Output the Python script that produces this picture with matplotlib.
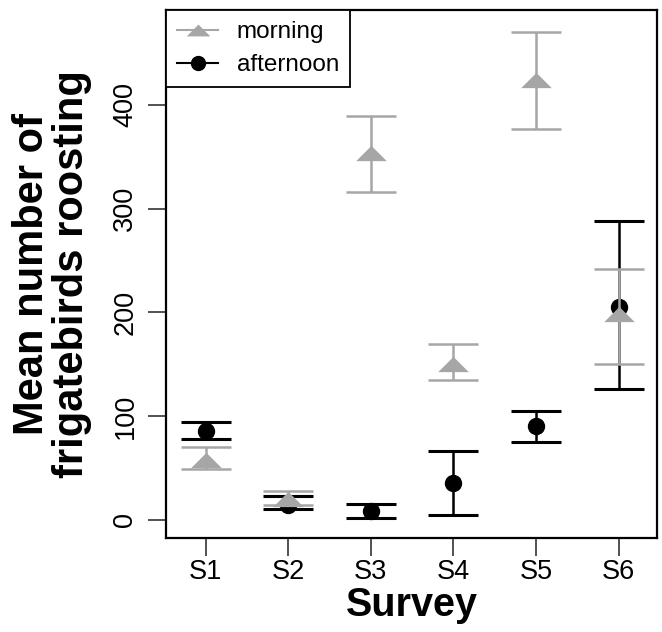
import matplotlib.pyplot as plt
from matplotlib.lines import Line2D

plt.rcParams['font.family'] = ['Liberation Sans', 'DejaVu Sans']

# Data
surveys = ['S1', 'S2', 'S3', 'S4', 'S5', 'S6']

morning_mean = [58, 20, 354, 150, 424, 198]
morning_low = [49, 14, 316, 135, 377, 150]
morning_high = [70, 28, 389, 169, 470, 242]

afternoon_mean = [86, 14, 8, 35, 90, 205]
afternoon_low = [78, 10, 2, 5, 75, 126]
afternoon_high = [94, 23, 15, 66, 105, 288]

gray = '#A6A6A6'
x = list(range(1, len(surveys) + 1))

# flattened triangle like the R output
tri = [(-1, -0.5), (1, -0.5), (0, 0.5), (-1, -0.5)]

fig = plt.figure(figsize=(6.62, 6.32), dpi=100)
ax = fig.add_axes([0.251, 0.149, 0.742, 0.835])

m_err = [[m - l for m, l in zip(morning_mean, morning_low)],
         [h - m for m, h in zip(morning_mean, morning_high)]]
a_err = [[m - l for m, l in zip(afternoon_mean, afternoon_low)],
         [h - m for m, h in zip(afternoon_mean, afternoon_high)]]

# afternoon first, morning drawn on top (as in the original)
ax.errorbar(x, afternoon_mean, yerr=a_err, fmt='none', ecolor='black',
            elinewidth=1.8, capsize=18, capthick=2.2, zorder=2)
ax.plot(x, afternoon_mean, linestyle='none', marker='o', markersize=11.5,
        color='black', zorder=3)

ax.errorbar(x, morning_mean, yerr=m_err, fmt='none', ecolor=gray,
            elinewidth=1.8, capsize=18, capthick=1.8, zorder=4)
ax.plot(x, morning_mean, linestyle='none', marker=tri, markersize=22,
        color=gray, markeredgewidth=0, zorder=5)

ax.set_xlim(0.52, 6.47)
ax.set_ylim(-17.5, 491.5)
ax.set_xticks(x)
ax.set_xticklabels(surveys)
ax.set_yticks([0, 100, 200, 300, 400])
ax.set_yticklabels(['0', '100', '200', '300', '400'], rotation=90, va='center')
ax.tick_params(axis='both', labelsize=19.5, length=13, width=1.2, pad=7,
               color='#333333')
ax.tick_params(axis='x', pad=2)

for s in ax.spines.values():
    s.set_linewidth(1.6)

ax.set_xlabel('Survey', fontsize=28.5, fontweight='bold', labelpad=1)
ax.set_ylabel('Mean number of\nfrigatebirds roosting', fontsize=30,
              fontweight='bold', linespacing=1.0)
ax.yaxis.set_label_coords(92 / 662, 1 - 274 / 632, transform=fig.transFigure)

handles = [
    Line2D([], [], color=gray, marker=tri, markersize=17, linewidth=1.5,
           markeredgewidth=0),
    Line2D([], [], color='black', marker='o', markersize=10, linewidth=1.5),
]
leg = ax.legend(handles, ['morning', 'afternoon'], loc='upper left',
                borderaxespad=0, fontsize=17.5, frameon=True, fancybox=False,
                edgecolor='black', framealpha=1, handlelength=1.7,
                handletextpad=0.75, labelspacing=0.45, borderpad=0.45)
leg.get_frame().set_linewidth(1.3)

fig.savefig('out.png', dpi=100)
